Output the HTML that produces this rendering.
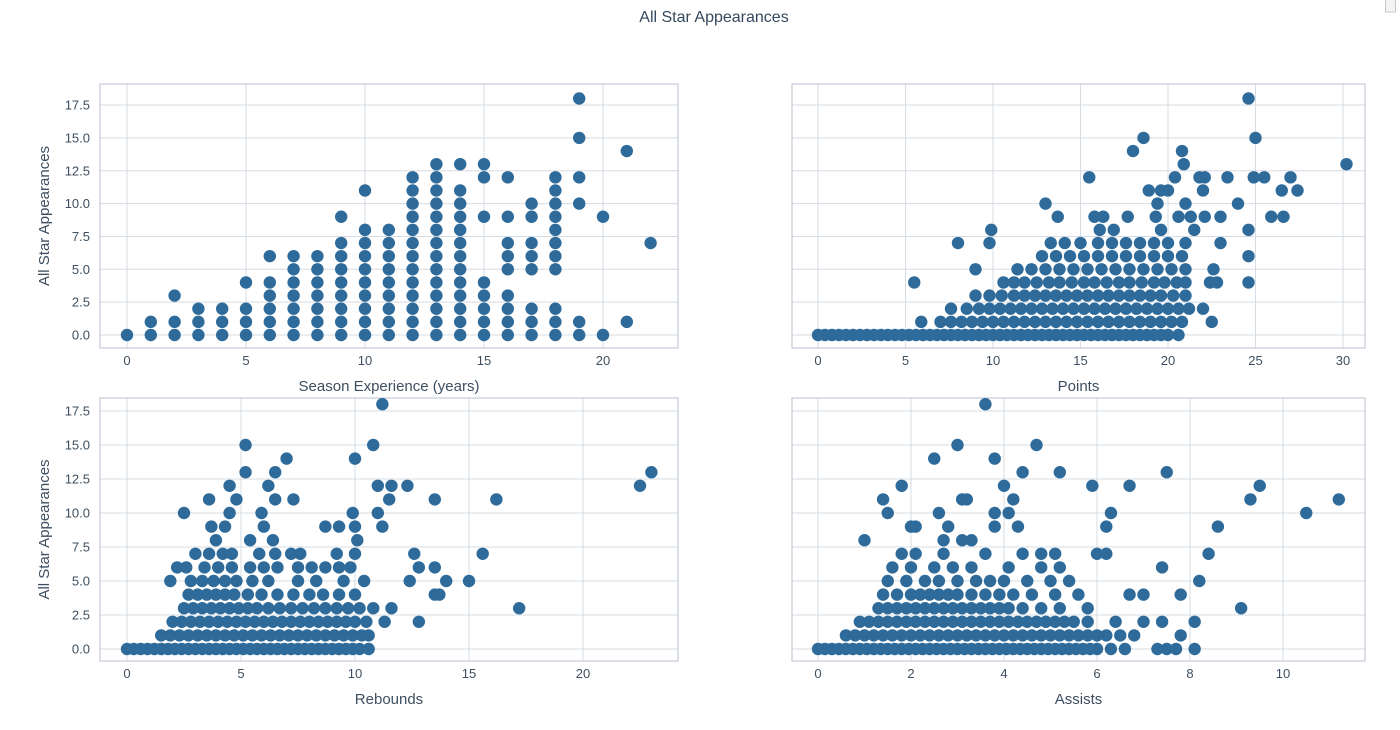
<!DOCTYPE html>
<html><head><meta charset="utf-8"><style>
html,body{margin:0;padding:0;background:#fff;}
svg{display:block;font-family:"Liberation Sans",sans-serif;}
</style></head><body>
<svg id="chart" width="1400" height="730" xmlns="http://www.w3.org/2000/svg">
<text x="714" y="22" text-anchor="middle" font-size="16" fill="#34495e">All Star Appearances</text>
<rect x="1385.5" y="-1" width="10" height="13" fill="#f4f4f4" stroke="#c8c8c8"/>
</svg>
<script>
// Season experience (x) -> all star appearances per season
const seasonX = [0,1,2,3,4,5,6,7,8,9,10,11,12,13,14,15,16,17,18,19,20,21,22];
const seasonYs = [[0],[0,1],[0,1,3],[0,1,2],[0,1,2],[0,1,2,4],[0,1,2,3,4,6],[0,1,2,3,4,5,6],[0,1,2,3,4,5,6],[0,1,2,3,4,5,6,7,9],[0,1,2,3,4,5,6,7,8,11],[0,1,2,3,4,5,6,7,8],[0,1,2,3,4,5,6,7,8,9,10,11,12],[0,1,2,3,4,5,6,7,8,9,10,11,12,13],[0,1,2,3,4,5,6,7,8,9,10,11,13],[0,1,2,3,4,9,12,13],[0,1,2,3,5,6,7,9,12],[0,1,2,5,6,7,9,10],[0,1,2,5,6,7,8,9,10,11,12],[0,1,10,12,15,18],[0,9],[1,14],[7]];
// Row y values shared by the other panels
const rowY = [0,1,2,3,4,5,6,7,8,9,10,11,12,13,14,15,18];
const pointsXs = [
[0,.4,.8,1.2,1.6,2,2.4,2.8,3.2,3.6,4,4.4,4.8,5.2,5.6,6,6.4,6.8,7.2,7.6,8,8.4,8.8,9.2,9.6,10,10.4,10.8,11.2,11.6,12,12.4,12.8,13.2,13.6,14,14.4,14.8,15.2,15.6,16,16.4,16.8,17.2,17.6,18,18.4,18.8,19.2,19.6,20,20.6],
[5.9,7,7.6,8.2,8.8,9.4,10,10.6,11.2,11.8,12.4,13,13.6,14.2,14.8,15.4,16,16.6,17.2,17.8,18.4,19,19.6,20.2,20.8,22.5],
[7.6,8.5,9.2,9.8,10.4,11,11.6,12.2,12.8,13.4,14,14.6,15.2,15.8,16.4,17,17.6,18.2,18.8,19.4,20,20.6,21.2,22],
[9,9.8,10.5,11.2,11.8,12.4,13,13.6,14.2,14.8,15.4,16,16.6,17.2,17.8,18.4,19,19.6,20.3,21],
[5.5,10.6,11.2,11.8,12.5,13.2,13.8,14.5,15.2,15.8,16.5,17.2,17.8,18.5,19.2,19.8,20.5,21,22.4,22.8,24.6],
[9,11.4,12.2,13,13.8,14.6,15.4,16.2,17,17.8,18.6,19.4,20.2,21,22.6],
[12.8,13.6,14.4,15.2,16,16.8,17.6,18.4,19.2,20,20.8,24.6],
[8,9.8,13.3,14.1,15,16,16.8,17.6,18.4,19.2,20,21,23],
[9.9,16.1,16.9,19.6,21.5,24.6],
[13.7,15.8,16.3,17.7,19.3,20.6,21.3,22.1,23,25.9,26.6],
[13,19.4,21,24],
[18.9,19.6,20,22,26.5,27.4],
[15.5,20.4,21.8,22.1,23.4,24.9,25.5,27],
[20.9,30.2],[18,20.8],[18.6,25],[24.6]];
const reboundsXs = [
[0,.3,.6,.9,1.2,1.5,1.8,2.1,2.4,2.7,3,3.3,3.6,3.9,4.2,4.5,4.8,5.1,5.4,5.7,6,6.3,6.6,6.9,7.2,7.5,7.8,8.1,8.4,8.7,9,9.3,9.6,9.9,10.2,10.6],
[1.5,1.9,2.3,2.7,3.1,3.5,3.9,4.3,4.7,5.1,5.5,5.9,6.3,6.7,7.1,7.5,7.9,8.3,8.7,9.1,9.5,9.9,10.3,10.6],
[2,2.4,2.8,3.2,3.6,4,4.4,4.8,5.2,5.6,6,6.4,6.8,7.2,7.6,8,8.4,8.8,9.2,9.6,10,10.5,11.3,12.8],
[2.5,2.9,3.3,3.7,4.1,4.5,4.9,5.3,5.7,6.2,6.7,7.2,7.7,8.2,8.7,9.2,9.7,10.2,10.8,11.6,17.2],
[2.7,3.1,3.5,3.9,4.3,4.7,5.3,5.9,6.6,7.3,8,8.6,9.3,10,13.5,13.7],
[1.9,2.8,3.3,3.8,4.3,4.8,5.5,6.2,7.5,8.3,9.5,10.4,12.4,14,15],
[2.2,2.6,3.4,4,4.6,5.4,6,6.6,7.5,8.1,8.7,9.3,9.8,12.8,13.5],
[3,3.6,4.2,4.6,5.8,6.5,7.2,7.6,9.2,10,12.6,15.6],
[3.9,5.4,6.4,10.1],
[3.7,4.3,6,8.7,9.3,10,11.2],
[2.5,4.5,5.9,9.9,11],
[3.6,4.8,6.5,7.3,11.5,13.5,16.2],
[4.5,6.2,11,11.6,12.3,22.5],
[5.2,6.5,23],[7,10],[5.2,10.8],[11.2]];
const assistsXs = [
[0,.15,.3,.45,.6,.75,.9,1.05,1.2,1.35,1.5,1.65,1.8,1.95,2.1,2.25,2.4,2.55,2.7,2.85,3,3.15,3.3,3.45,3.6,3.75,3.9,4.05,4.2,4.35,4.5,4.65,4.8,4.95,5.1,5.25,5.4,5.55,5.7,5.85,6,6.3,6.6,7.3,7.5,7.7,8.1],
[.6,.8,1,1.2,1.4,1.6,1.8,2,2.2,2.4,2.6,2.8,3,3.2,3.4,3.6,3.8,4,4.2,4.4,4.6,4.8,5,5.2,5.4,5.6,5.8,6,6.2,6.5,6.8,7.8],
[.9,1.1,1.3,1.5,1.7,1.9,2.1,2.3,2.5,2.7,2.9,3.1,3.3,3.5,3.7,3.9,4.1,4.3,4.5,4.7,4.9,5.1,5.3,5.5,5.8,6.4,7,7.4,8.1],
[1.3,1.5,1.7,1.9,2.1,2.3,2.5,2.7,2.9,3.1,3.3,3.5,3.7,3.9,4.1,4.4,4.8,5.2,5.8,9.1],
[1.4,1.7,2,2.2,2.4,2.6,2.8,3,3.3,3.6,3.9,4.2,4.6,5.1,5.6,6.7,7,7.8],
[1.5,1.9,2.3,2.6,3,3.4,3.7,4,4.5,5,5.4,8.2],
[1.6,2,2.5,2.9,3.3,4.1,4.8,5.2,7.4],
[1.8,2.1,2.7,3.6,4.4,4.8,5.1,6,6.2,8.4],
[1,2.7,3.1,3.3],
[2,2.1,2.8,3.8,4.3,6.2,8.6],
[1.5,2.6,3.8,4.1,6.3,10.5],
[1.4,3.1,3.2,4.2,9.3,11.2],
[1.8,4,5.9,6.7,9.5],
[4.4,5.2,7.5],[2.5,3.8],[3,4.7],[3.6]];
const yTicks = [0,2.5,5,7.5,10,12.5,15,17.5];
const xTicksSeason = [0,5,10,15,20];
const xTicksPoints = [0,5,10,15,20,25,30];
const xTicksReb = [0,5,10,15,20];
const xTicksAst = [0,2,4,6,8,10];

const NS = 'http://www.w3.org/2000/svg';
const svg = document.getElementById('chart');
function el(tag, attrs, parent){const e=document.createElementNS(NS,tag);for(const k in attrs)e.setAttribute(k,attrs[k]);(parent||svg).appendChild(e);return e;}

function panel(p){
  const g = el('g',{});
  
  
  const X=v=>p.x0+v*p.xs, Y=v=>p.y0-v*p.ys;
  el('rect',{x:p.l,y:p.t,width:p.r-p.l,height:p.b-p.t,fill:'#fff'},g);
  p.xt.forEach(v=>{
    el('line',{x1:X(v),x2:X(v),y1:p.t,y2:p.b,stroke:'#d5dce3','stroke-width':1},g);
    const t=el('text',{x:X(v),y:p.b+17,'text-anchor':'middle','font-size':13,fill:'#3d4f61'},g);
    t.textContent=v;
    
    
  });
  yTicks.forEach(v=>{
    el('line',{x1:p.l,x2:p.r,y1:Y(v),y2:Y(v),stroke:'#d5dce3','stroke-width':1},g);
    if(p.ylab){
      const t=el('text',{x:p.l-10,y:Y(v)+4.5,'text-anchor':'end','font-size':13,fill:'#3d4f61'},g);
      t.textContent=v.toFixed(1);
      
      
    }
  });
  el('rect',{x:p.l,y:p.t,width:p.r-p.l,height:p.b-p.t,fill:'none',stroke:'#c4ccd5','stroke-width':1.2},g);
  const add=(x,y)=>{
    const c=el('circle',{cx:X(x),cy:Y(y),r:6.2,fill:'#2f6b9a'},g);
    
    
  };
  if(p.cols){ seasonX.forEach((x,i)=>seasonYs[i].forEach(y=>add(x,y))); }
  else { rowY.forEach((y,i)=>p.rows[i].forEach(x=>add(x,y))); }
  const xl=el('text',{x:(p.l+p.r)/2,y:p.b+43,'text-anchor':'middle','font-size':15,fill:'#3d4f61'},g);
  xl.textContent=p.xlabel;
  
  
  if(p.ylab){
    const cy=(p.t+p.b)/2;
    const yl=el('text',{x:49,y:cy,'text-anchor':'middle','font-size':15,fill:'#3d4f61',transform:`rotate(-90 49 ${cy})`},g);
    yl.textContent='All Star Appearances';
    
    
  }
}
panel({name:'season-experience-panel',l:100,r:678,t:84,b:348,x0:127,xs:23.8,y0:335,ys:13.14,xt:xTicksSeason,ylab:true,cols:true,xlabel:'Season Experience (years)'});
panel({name:'points-panel',l:792,r:1365,t:84,b:348,x0:818,xs:17.5,y0:335,ys:13.14,xt:xTicksPoints,ylab:false,rows:pointsXs,xlabel:'Points'});
panel({name:'rebounds-panel',l:100,r:678,t:398,b:661,x0:127,xs:22.8,y0:649,ys:13.6,xt:xTicksReb,ylab:true,rows:reboundsXs,xlabel:'Rebounds'});
panel({name:'assists-panel',l:792,r:1365,t:398,b:661,x0:818,xs:46.5,y0:649,ys:13.6,xt:xTicksAst,ylab:false,rows:assistsXs,xlabel:'Assists'});
</script>
</body></html>
